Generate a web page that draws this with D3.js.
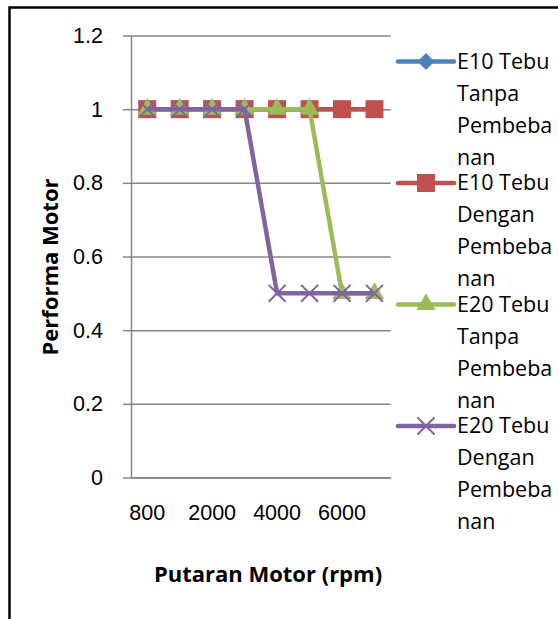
<!DOCTYPE html>
<html>
<head>
<meta charset="utf-8">
<script src="https://cdn.jsdelivr.net/npm/d3@7"></script>
<style>
  body { margin: 0; background: #fff; }
  svg { display: block; font-family: "Open Sans", sans-serif; }
  .axis path, .axis line { stroke: #868686; stroke-width: 1.5; }
  .axis text { fill: #000; font-size: 21.5px; }
  .grid line { stroke: #868686; stroke-width: 1.5; }
  .grid path { display: none; }
  .axis-title { font-weight: bold; font-size: 22px; fill: #000; }
  .legend text { font-size: 21.5px; fill: #000; }
</style>
</head>
<body>
<svg id="chart"></svg>
<script>
// data
const categories = ['800', '1000', '2000', '3000', '4000', '5000', '6000', '7000'];
const e10Tanpa  = [1, 1, 1, 1, 1, 1, 1, 1];
const e10Dengan = [1, 1, 1, 1, 1, 1, 1, 1];
const e20Tanpa  = [1, 1, 1, 1, 1, 1, 0.5, 0.5];
const e20Dengan = [1, 1, 1, 1, 0.5, 0.5, 0.5, 0.5];
const seriesNames = [
  'E10 Tebu Tanpa Pembebanan',
  'E10 Tebu Dengan Pembebanan',
  'E20 Tebu Tanpa Pembebanan',
  'E20 Tebu Dengan Pembebanan'
];
// legend text as Excel wrapped it
const legendLines = [
  ['E10 Tebu', 'Tanpa', 'Pembeba', 'nan'],
  ['E10 Tebu', 'Dengan', 'Pembeba', 'nan'],
  ['E20 Tebu', 'Tanpa', 'Pembeba', 'nan'],
  ['E20 Tebu', 'Dengan', 'Pembeba', 'nan']
];
const yTicks = [0, 0.2, 0.4, 0.6, 0.8, 1, 1.2];
const xTitle = 'Putaran Motor (rpm)';
const yTitle = 'Performa Motor';

class LineChart {
  constructor(_config, _series) {
    this.config = {
      parentElement: _config.parentElement,
      containerWidth: _config.containerWidth || 558,
      containerHeight: _config.containerHeight || 619,
      margin: {top: 35.5, right: 167.3, bottom: 141.5, left: 131}
    };
    this.series = _series;
    this.initVis();
  }

  initVis() {
    let vis = this;

    vis.width = vis.config.containerWidth - vis.config.margin.left - vis.config.margin.right;
    vis.height = vis.config.containerHeight - vis.config.margin.top - vis.config.margin.bottom;

    vis.svg = d3.select(vis.config.parentElement)
      .attr('width', vis.config.containerWidth)
      .attr('height', vis.config.containerHeight);

    // outer frame of the pasted chart
    vis.svg.append('rect')
      .attr('x', 9.5).attr('y', 7.5)
      .attr('width', 600).attr('height', 700)
      .attr('fill', 'none')
      .attr('stroke', '#000')
      .attr('stroke-width', 2.5);

    vis.chart = vis.svg.append('g')
      .attr('transform', `translate(${vis.config.margin.left}, ${vis.config.margin.top})`);

    vis.xScale = d3.scaleBand()
      .domain(categories)
      .range([0, vis.width]);

    vis.yScale = d3.scaleLinear()
      .domain([0, 1.2])
      .range([vis.height, 0]);

    this.updateVis();
  }

  updateVis() {
    let vis = this;

    // gridlines
    vis.chart.append('g')
      .attr('class', 'grid')
      .call(d3.axisLeft(vis.yScale).tickValues(yTicks).tickSize(-vis.width).tickFormat(''));

    // Y axis
    vis.chart.append('g')
      .attr('class', 'axis y-axis')
      .call(d3.axisLeft(vis.yScale)
        .tickValues(yTicks)
        .tickSizeInner(8)
        .tickSizeOuter(0)
        .tickPadding(20)
        .tickFormat(d => String(+d.toFixed(1))));

    // X axis, every other label like Excel did
    vis.chart.append('g')
      .attr('class', 'axis x-axis')
      .attr('transform', `translate(0, ${vis.height})`)
      .call(d3.axisBottom(vis.xScale)
        .tickSize(0)
        .tickPadding(27)
        .tickFormat((d, i) => i % 2 === 0 ? d : ''));

    vis.svg.append('text')
      .attr('class', 'axis-title')
      .attr('x', 268).attr('y', 582)
      .attr('text-anchor', 'middle')
      .text(xTitle);

    vis.svg.append('text')
      .attr('class', 'axis-title')
      .attr('transform', 'translate(58, 267) rotate(-90)')
      .attr('text-anchor', 'middle')
      .text(yTitle);

    this.renderVis();
  }

  renderVis() {
    let vis = this;

    const line = d3.line()
      .x((d, i) => vis.xScale(categories[i]) + vis.xScale.bandwidth() / 2)
      .y(d => vis.yScale(d));

    vis.series.forEach(s => {
      const g = vis.chart.append('g');
      g.append('path')
        .datum(s.values)
        .attr('fill', 'none')
        .attr('stroke', s.color)
        .attr('stroke-width', 4.5)
        .attr('stroke-linejoin', 'round')
        .attr('d', line);

      g.selectAll('path.marker')
        .data(s.values)
        .join('path')
          .attr('class', 'marker')
          .attr('transform', (d, i) => `translate(${vis.xScale(categories[i]) + vis.xScale.bandwidth() / 2}, ${vis.yScale(d)})${s.rotate ? ' rotate(45)' : ''}`)
          .attr('d', d3.symbol().type(s.symbol).size(s.size))
          .attr('fill', s.stroked ? 'none' : s.color)
          .attr('stroke', s.color)
          .attr('stroke-width', s.stroked ? 2 : 0);
    });

    // legend
    const legend = vis.svg.append('g').attr('class', 'legend');
    vis.series.forEach((s, idx) => {
      const item = legend.append('g')
        .attr('transform', `translate(398, ${61.5 + idx * 121.5})`);
      item.append('line')
        .attr('x1', 0).attr('x2', 56)
        .attr('stroke', s.color)
        .attr('stroke-width', 4.5)
        .attr('stroke-linecap', 'round');
      item.append('path')
        .attr('transform', `translate(28, 0)${s.rotate ? ' rotate(45)' : ''}`)
        .attr('d', d3.symbol().type(s.symbol).size(s.size))
        .attr('fill', s.stroked ? 'none' : s.color)
        .attr('stroke', s.color)
        .attr('stroke-width', s.stroked ? 2 : 0);
      item.selectAll('text')
        .data(legendLines[idx])
        .join('text')
          .attr('x', 59)
          .attr('y', (d, k) => 7 + k * 32)
          .text(d => d);
    });
  }
}

const series = [
  {name: seriesNames[0], values: e10Tanpa,  color: '#4F81BD', symbol: d3.symbolSquare, size: 144, rotate: true},
  {name: seriesNames[1], values: e10Dengan, color: '#C0504D', symbol: d3.symbolSquare, size: 324},
  {name: seriesNames[2], values: e20Tanpa,  color: '#9BBB59', symbol: d3.symbolTriangle, size: 160},
  {name: seriesNames[3], values: e20Dengan, color: '#8064A2', symbol: d3.symbolX, size: 190, stroked: true}
];

new LineChart({parentElement: '#chart'}, series);
</script>
</body>
</html>
